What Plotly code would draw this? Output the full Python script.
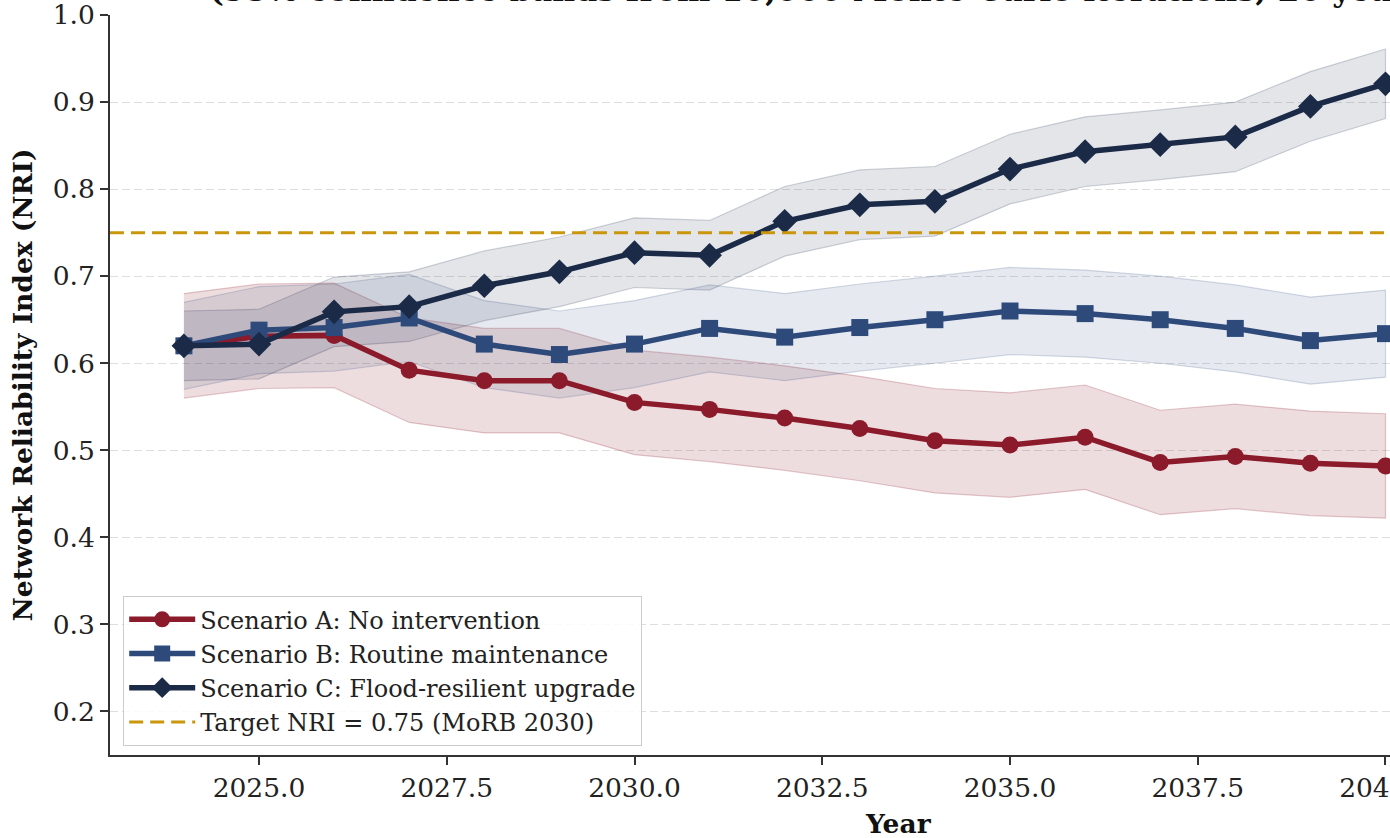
import plotly.graph_objects as go

# ---- data -------------------------------------------------------------
years = list(range(2024, 2041))

# Scenario A: no intervention (mean NRI and 95% band)
a_mean = [0.620, 0.631, 0.632, 0.592, 0.580, 0.580, 0.555, 0.547, 0.537,
          0.525, 0.511, 0.506, 0.515, 0.486, 0.493, 0.485, 0.482]
a_low = [0.560, 0.571, 0.572, 0.532, 0.520, 0.520, 0.495, 0.487, 0.477,
         0.465, 0.451, 0.446, 0.455, 0.426, 0.433, 0.425, 0.422]
a_high = [0.680, 0.691, 0.692, 0.652, 0.640, 0.640, 0.615, 0.607, 0.597,
          0.585, 0.571, 0.566, 0.575, 0.546, 0.553, 0.545, 0.542]

# Scenario B: routine maintenance
b_mean = [0.620, 0.638, 0.641, 0.652, 0.622, 0.610, 0.622, 0.640, 0.630,
          0.641, 0.650, 0.660, 0.657, 0.650, 0.640, 0.626, 0.634]
b_low = [0.570, 0.588, 0.591, 0.602, 0.572, 0.560, 0.572, 0.590, 0.580,
         0.591, 0.600, 0.610, 0.607, 0.600, 0.590, 0.576, 0.584]
b_high = [0.670, 0.688, 0.691, 0.702, 0.672, 0.660, 0.672, 0.690, 0.680,
          0.691, 0.700, 0.710, 0.707, 0.700, 0.690, 0.676, 0.684]

# Scenario C: flood-resilient upgrade
c_mean = [0.620, 0.622, 0.659, 0.665, 0.689, 0.705, 0.727, 0.724, 0.763,
          0.782, 0.786, 0.823, 0.843, 0.851, 0.860, 0.895, 0.921]
c_low = [0.580, 0.582, 0.619, 0.625, 0.649, 0.665, 0.687, 0.684, 0.723,
         0.742, 0.746, 0.783, 0.803, 0.811, 0.820, 0.855, 0.881]
c_high = [0.660, 0.662, 0.699, 0.705, 0.729, 0.745, 0.767, 0.764, 0.803,
          0.822, 0.826, 0.863, 0.883, 0.891, 0.900, 0.935, 0.961]

target_nri = 0.75

names = ["Scenario A: No intervention",
         "Scenario B: Routine maintenance",
         "Scenario C: Flood-resilient upgrade"]
target_label = "Target NRI = 0.75 (MoRB 2030)"
subtitle = "(95% confidence bands from 10,000 Monte Carlo iterations; 20 years)"

x_ticks = [2025.0, 2027.5, 2030.0, 2032.5, 2035.0, 2037.5, 2040.0]
y_ticks = [0.2, 0.3, 0.4, 0.5, 0.6, 0.7, 0.8, 0.9, 1.0]

# ---- style ------------------------------------------------------------
FONT = "DejaVu Serif"
RED, BLUE, NAVY, GOLD = "#8B1A2B", "#2E4A7B", "#1B2A47", "#C9960C"
x_range = [2023.016, 2040.06]
y_range = [0.15, 1.0]


def rgba(hex_color, alpha):
    h = hex_color.lstrip("#")
    r, g, b = int(h[0:2], 16), int(h[2:4], 16), int(h[4:6], 16)
    return f"rgba({r},{g},{b},{alpha})"


fig = go.Figure()

series = [
    (a_mean, a_low, a_high, RED, "circle", 17, 0.15, names[0]),
    (b_mean, b_low, b_high, BLUE, "square", 17, 0.12, names[1]),
    (c_mean, c_low, c_high, NAVY, "diamond", 19, 0.12, names[2]),
]

# confidence bands
for mean, low, high, color, sym, msize, alpha, name in series:
    fig.add_trace(go.Scatter(
        x=years + years[::-1],
        y=high + low[::-1],
        fill="toself",
        fillcolor=rgba(color, alpha),
        line=dict(color=rgba(color, alpha + 0.08), width=1.2),
        mode="lines",
        hoverinfo="skip",
        showlegend=False,
    ))

# mean trajectories
for mean, low, high, color, sym, msize, alpha, name in series:
    fig.add_trace(go.Scatter(
        x=years, y=mean, name=name,
        mode="lines+markers",
        line=dict(color=color, width=5.5),
        marker=dict(symbol=sym, size=msize, color=color,
                    line=dict(width=0)),
        cliponaxis=False,
    ))

# target reference line
fig.add_trace(go.Scatter(
    x=x_range, y=[target_nri, target_nri], name=target_label,
    mode="lines",
    line=dict(color=GOLD, width=3, dash="14px,7px"),
    hoverinfo="skip",
))

axis_common = dict(
    showline=True, linecolor="#333333", linewidth=1.6,
    ticks="outside", ticklen=8, tickwidth=1.5, tickcolor="#333333",
    tickfont=dict(family=FONT, size=26.5, color="#222222"),
    ticklabeloverflow="allow",
    zeroline=False, automargin=False, mirror=False,
)

fig.update_xaxes(
    range=x_range, tickvals=x_ticks,
    ticktext=[f"{v:.1f}" for v in x_ticks],
    showgrid=False, **axis_common,
)
fig.update_yaxes(
    range=y_range, tickvals=y_ticks,
    ticktext=[f"{v:.1f}" for v in y_ticks],
    showgrid=True, gridcolor="#dedede", gridwidth=1, griddash="8px,4px",
    title=dict(text="Network Reliability Index (NRI)", standoff=12,
               font=dict(family=FONT, size=26.5, color="#111111", weight="bold")),
    **axis_common,
)

fig.add_annotation(
    text="Year", xref="paper", yref="paper",
    x=(898 - 110) / 1280, y=-(823 - 755) / 740,
    xanchor="center", yanchor="middle", showarrow=False,
    font=dict(family=FONT, size=26.5, color="#111111", weight="bold"),
)

fig.add_annotation(
    text=subtitle, xref="paper", yref="paper",
    x=(207 - 110) / 1280, y=1 + (15 - 10.5) / 740,
    xanchor="left", yanchor="bottom", showarrow=False,
    font=dict(family=FONT, size=31.5, color="#111111", weight="bold"),
)

fig.update_layout(
    width=1390, height=838,
    margin=dict(l=110, r=0, t=15, b=83, pad=0),
    paper_bgcolor="white", plot_bgcolor="white",
    font=dict(family=FONT, color="#222222"),
    showlegend=True,
    legend=dict(
        x=(123 - 110) / 1280, y=(755 - 596) / 740,
        xanchor="left", yanchor="top",
        bgcolor="rgba(255,255,255,0.85)",
        bordercolor="#cccccc", borderwidth=1.2,
        font=dict(family=FONT, size=24, color="#222222"),
        itemwidth=66,
    ),
)

fig.write_html("out.html")
